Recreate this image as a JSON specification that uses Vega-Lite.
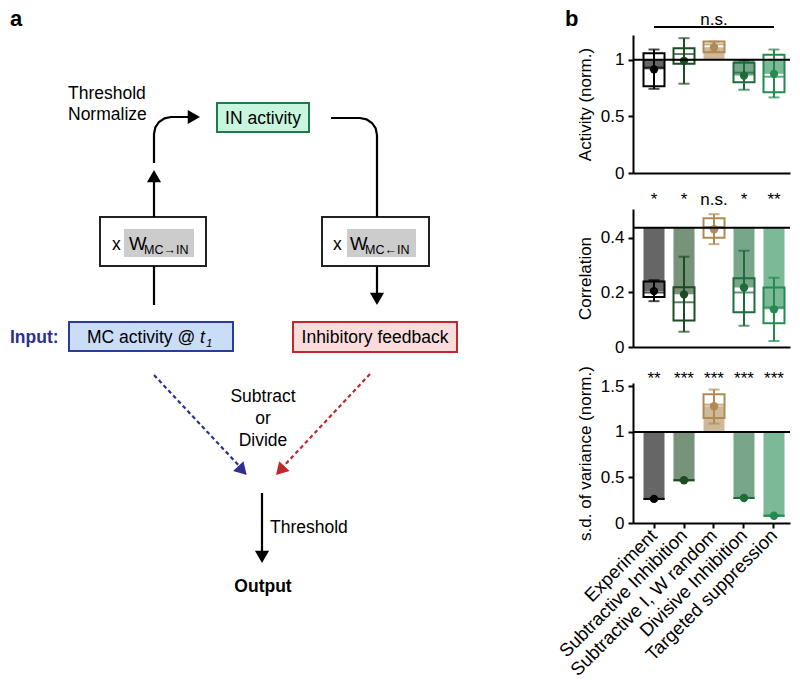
{
  "$schema": "https://vega.github.io/schema/vega-lite/v6.json",
  "padding": {"left": 0, "top": 8, "right": 5, "bottom": 5},
  "background": "white",
  "bounds": "flush",
  "spacing": 153,
  "resolve": {"scale": {"color": "independent", "fill": "independent", "stroke": "independent"}},
  "config": {
    "font": "Liberation Sans",
    "view": {"stroke": null},
    "axis": {"domainColor": "black", "domainWidth": 2, "tickColor": "black", "tickWidth": 2, "tickSize": 5, "labelFontSize": 17, "labelColor": "black", "titleFontSize": 17, "titleFontWeight": "normal", "titleColor": "black", "grid": false, "labelPadding": 4, "titlePadding": 6}
  },
  "datasets": {
    "boxes": [
      {"box": "IN", "x1": 217, "x2": 309, "y1": 103, "y2": 132},
      {"box": "W1", "x1": 100, "x2": 206, "y1": 217, "y2": 266},
      {"box": "G1", "x1": 124, "x2": 194, "y1": 229, "y2": 257},
      {"box": "W2", "x1": 322, "x2": 429, "y1": 217, "y2": 266},
      {"box": "G2", "x1": 347, "x2": 416, "y1": 229, "y2": 257},
      {"box": "Input", "x1": 69, "x2": 233, "y1": 322, "y2": 351},
      {"box": "Inhib", "x1": 293, "x2": 457, "y1": 322, "y2": 352}
    ],
    "lines": [
      {"seg": "up1", "o": 0, "x": 154, "y": 305}, {"seg": "up1", "o": 1, "x": 154, "y": 266},
      {"seg": "up2", "o": 0, "x": 154, "y": 217}, {"seg": "up2", "o": 1, "x": 154, "y": 182},
      {"seg": "c1", "o": 0, "x": 154, "y": 163}, {"seg": "c1", "o": 1, "x": 154, "y": 134},
      {"seg": "c1", "o": 2, "x": 155.3, "y": 127.5}, {"seg": "c1", "o": 3, "x": 159, "y": 122},
      {"seg": "c1", "o": 4, "x": 164.5, "y": 118.3}, {"seg": "c1", "o": 5, "x": 171, "y": 117},
      {"seg": "c1", "o": 6, "x": 189, "y": 117},
      {"seg": "c2", "o": 0, "x": 331, "y": 118}, {"seg": "c2", "o": 1, "x": 360, "y": 118},
      {"seg": "c2", "o": 2, "x": 366.5, "y": 119.3}, {"seg": "c2", "o": 3, "x": 372, "y": 123},
      {"seg": "c2", "o": 4, "x": 375.7, "y": 128.5}, {"seg": "c2", "o": 5, "x": 377, "y": 135},
      {"seg": "c2", "o": 6, "x": 377, "y": 217},
      {"seg": "dn", "o": 0, "x": 377, "y": 266}, {"seg": "dn", "o": 1, "x": 377, "y": 293},
      {"seg": "out", "o": 0, "x": 262, "y": 493}, {"seg": "out", "o": 1, "x": 262, "y": 551}
    ],
    "dash": [
      {"kind": "blue", "o": 0, "x": 154, "y": 375}, {"kind": "blue", "o": 1, "x": 243, "y": 470},
      {"kind": "red", "o": 0, "x": 370, "y": 374}, {"kind": "red", "o": 1, "x": 280, "y": 470}
    ],
    "heads": [
      {"kind": "black", "x": 154, "y": 176.1, "rot": 0},
      {"kind": "black", "x": 193.9, "y": 117, "rot": 90},
      {"kind": "black", "x": 377, "y": 298.9, "rot": 180},
      {"kind": "black", "x": 262, "y": 556.9, "rot": 180},
      {"kind": "blue", "x": 242.5, "y": 470.5, "rot": 136.8},
      {"kind": "red", "x": 280.2, "y": 470.5, "rot": 223.2}
    ],
    "txtLeft": [
      {"t": "Threshold", "x": 68, "y": 99},
      {"t": "Normalize", "x": 68, "y": 120},
      {"t": "x", "x": 112, "y": 250},
      {"t": "x", "x": 333, "y": 250},
      {"t": "Threshold", "x": 270, "y": 533},
      {"t": "MC activity @", "x": 87, "y": 343}
    ],
    "txtCenter": [
      {"t": "IN activity", "x": 263, "y": 124},
      {"t": "Inhibitory feedback", "x": 375, "y": 343},
      {"t": "Subtract", "x": 263, "y": 402},
      {"t": "or", "x": 263, "y": 424},
      {"t": "Divide", "x": 263, "y": 446}
    ],
    "txtW": [
      {"t": "W", "x": 129, "y": 250},
      {"t": "W", "x": 350, "y": 250}
    ],
    "txtSub": [
      {"t": "MC→IN", "x": 144, "y": 254},
      {"t": "MC←IN", "x": 365, "y": 254}
    ],
    "txtBold": [
      {"t": "a", "x": 10, "y": 26},
      {"t": "b", "x": 565, "y": 26}
    ],
    "act": [
      {"model": "Experiment", "mean": 0.915, "q1": 0.765, "q3": 1.056, "med": 0.93, "lo": 0.743, "hi": 1.09},
      {"model": "Subtractive Inhibition", "mean": 0.99, "q1": 0.965, "q3": 1.1, "med": 1.05, "lo": 0.788, "hi": 1.19},
      {"model": "Subtractive I, W random", "mean": 1.11, "q1": 1.065, "q3": 1.16, "med": 1.135, "lo": 1.07, "hi": 1.16},
      {"model": "Divisive Inhibition", "mean": 0.86, "q1": 0.8, "q3": 0.973, "med": 0.886, "lo": 0.735, "hi": 0.99},
      {"model": "Targeted suppression", "mean": 0.875, "q1": 0.712, "q3": 1.043, "med": 0.85, "lo": 0.667, "hi": 1.09}
    ],
    "corr": [
      {"model": "Experiment", "mean": 0.205, "q1": 0.183, "q3": 0.24, "med": 0.2, "lo": 0.168, "hi": 0.245, "lab": "*"},
      {"model": "Subtractive Inhibition", "mean": 0.193, "q1": 0.097, "q3": 0.219, "med": 0.164, "lo": 0.056, "hi": 0.331, "lab": "*"},
      {"model": "Subtractive I, W random", "mean": 0.432, "q1": 0.401, "q3": 0.472, "med": 0.44, "lo": 0.377, "hi": 0.487, "lab": "n.s."},
      {"model": "Divisive Inhibition", "mean": 0.218, "q1": 0.127, "q3": 0.252, "med": 0.2, "lo": 0.078, "hi": 0.353, "lab": "*"},
      {"model": "Targeted suppression", "mean": 0.138, "q1": 0.087, "q3": 0.218, "med": 0.145, "lo": 0.022, "hi": 0.254, "lab": "**"}
    ],
    "sd": [
      {"model": "Experiment", "mean": 0.265, "q1": 0.265, "q3": 0.265, "med": 0.265, "lo": 0.265, "hi": 0.265, "lab": "**"},
      {"model": "Subtractive Inhibition", "mean": 0.47, "q1": 0.47, "q3": 0.47, "med": 0.47, "lo": 0.47, "hi": 0.47, "lab": "***"},
      {"model": "Subtractive I, W random", "mean": 1.283, "q1": 1.154, "q3": 1.414, "med": 1.3, "lo": 1.092, "hi": 1.466, "lab": "***"},
      {"model": "Divisive Inhibition", "mean": 0.275, "q1": 0.275, "q3": 0.275, "med": 0.275, "lo": 0.275, "hi": 0.275, "lab": "***"},
      {"model": "Targeted suppression", "mean": 0.08, "q1": 0.08, "q3": 0.08, "med": 0.08, "lo": 0.08, "hi": 0.08, "lab": "***"}
    ]
  },
  "hconcat": [
    {
      "width": 480,
      "height": 565,
      "layer": [
        {
          "data": {"name": "boxes"},
          "mark": {"type": "rect", "strokeWidth": 2},
          "encoding": {
            "x": {"field": "x1", "type": "quantitative", "scale": {"domain": [0, 480], "nice": false, "zero": false}, "axis": null},
            "x2": {"field": "x2"},
            "y": {"field": "y1", "type": "quantitative", "scale": {"domain": [35, 600], "reverse": true, "nice": false, "zero": false}, "axis": null},
            "y2": {"field": "y2"},
            "fill": {"field": "box", "type": "nominal", "legend": null, "scale": {"domain": ["IN", "W1", "G1", "W2", "G2", "Input", "Inhib"], "range": ["#c8f5dd", "#ffffff", "#cccccc", "#ffffff", "#cccccc", "#c9dcf8", "#fadcdc"]}},
            "stroke": {"field": "box", "type": "nominal", "legend": null, "scale": {"domain": ["IN", "W1", "G1", "W2", "G2", "Input", "Inhib"], "range": ["#1e7a48", "#222222", "rgba(0,0,0,0)", "#222222", "rgba(0,0,0,0)", "#2e3a9a", "#c4262e"]}}
          }
        },
        {
          "data": {"name": "lines"},
          "mark": {"type": "line", "color": "black", "strokeWidth": 2.2},
          "encoding": {
            "x": {"field": "x", "type": "quantitative", "scale": {"domain": [0, 480], "nice": false, "zero": false}, "axis": null},
            "y": {"field": "y", "type": "quantitative", "scale": {"domain": [35, 600], "reverse": true, "nice": false, "zero": false}, "axis": null},
            "detail": {"field": "seg"},
            "order": {"field": "o"}
          }
        },
        {
          "data": {"name": "dash"},
          "mark": {"type": "line", "strokeWidth": 2.2, "strokeDash": [4, 3]},
          "encoding": {
            "x": {"field": "x", "type": "quantitative", "scale": {"domain": [0, 480], "nice": false, "zero": false}, "axis": null},
            "y": {"field": "y", "type": "quantitative", "scale": {"domain": [35, 600], "reverse": true, "nice": false, "zero": false}, "axis": null},
            "color": {"field": "kind", "type": "nominal", "legend": null, "scale": {"domain": ["blue", "red", "black"], "range": ["#2e3192", "#c1272d", "#000000"]}},
            "order": {"field": "o"}
          }
        },
        {
          "data": {"name": "heads"},
          "mark": {"type": "point", "shape": "triangle-up", "filled": true, "size": 200, "opacity": 1},
          "encoding": {
            "x": {"field": "x", "type": "quantitative", "scale": {"domain": [0, 480], "nice": false, "zero": false}, "axis": null},
            "y": {"field": "y", "type": "quantitative", "scale": {"domain": [35, 600], "reverse": true, "nice": false, "zero": false}, "axis": null},
            "color": {"field": "kind", "type": "nominal", "legend": null, "scale": {"domain": ["blue", "red", "black"], "range": ["#2e3192", "#c1272d", "#000000"]}},
            "angle": {"field": "rot", "type": "quantitative", "scale": null}
          }
        },
        {
          "data": {"name": "txtLeft"},
          "mark": {"type": "text", "align": "left", "baseline": "alphabetic", "fontSize": 17.5, "color": "black"},
          "encoding": {
            "x": {"field": "x", "type": "quantitative", "scale": {"domain": [0, 480], "nice": false, "zero": false}, "axis": null},
            "y": {"field": "y", "type": "quantitative", "scale": {"domain": [35, 600], "reverse": true, "nice": false, "zero": false}, "axis": null},
            "text": {"field": "t"}
          }
        },
        {
          "data": {"name": "txtCenter"},
          "mark": {"type": "text", "align": "center", "baseline": "alphabetic", "fontSize": 17.5, "color": "black"},
          "encoding": {
            "x": {"field": "x", "type": "quantitative", "scale": {"domain": [0, 480], "nice": false, "zero": false}, "axis": null},
            "y": {"field": "y", "type": "quantitative", "scale": {"domain": [35, 600], "reverse": true, "nice": false, "zero": false}, "axis": null},
            "text": {"field": "t"}
          }
        },
        {
          "data": {"name": "txtW"},
          "mark": {"type": "text", "align": "left", "baseline": "alphabetic", "fontSize": 18.5, "color": "black"},
          "encoding": {
            "x": {"field": "x", "type": "quantitative", "scale": {"domain": [0, 480], "nice": false, "zero": false}, "axis": null},
            "y": {"field": "y", "type": "quantitative", "scale": {"domain": [35, 600], "reverse": true, "nice": false, "zero": false}, "axis": null},
            "text": {"field": "t"}
          }
        },
        {
          "data": {"name": "txtSub"},
          "mark": {"type": "text", "align": "left", "baseline": "alphabetic", "fontSize": 12.5, "color": "black"},
          "encoding": {
            "x": {"field": "x", "type": "quantitative", "scale": {"domain": [0, 480], "nice": false, "zero": false}, "axis": null},
            "y": {"field": "y", "type": "quantitative", "scale": {"domain": [35, 600], "reverse": true, "nice": false, "zero": false}, "axis": null},
            "text": {"field": "t"}
          }
        },
        {
          "data": {"values": [{"t": "t", "x": 200, "y": 343}]},
          "mark": {"type": "text", "align": "left", "baseline": "alphabetic", "fontSize": 17.5, "fontStyle": "italic", "color": "black"},
          "encoding": {
            "x": {"field": "x", "type": "quantitative", "scale": {"domain": [0, 480], "nice": false, "zero": false}, "axis": null},
            "y": {"field": "y", "type": "quantitative", "scale": {"domain": [35, 600], "reverse": true, "nice": false, "zero": false}, "axis": null},
            "text": {"field": "t"}
          }
        },
        {
          "data": {"values": [{"t": "1", "x": 206, "y": 347}]},
          "mark": {"type": "text", "align": "left", "baseline": "alphabetic", "fontSize": 11.5, "fontStyle": "italic", "color": "black"},
          "encoding": {
            "x": {"field": "x", "type": "quantitative", "scale": {"domain": [0, 480], "nice": false, "zero": false}, "axis": null},
            "y": {"field": "y", "type": "quantitative", "scale": {"domain": [35, 600], "reverse": true, "nice": false, "zero": false}, "axis": null},
            "text": {"field": "t"}
          }
        },
        {
          "data": {"name": "txtBold"},
          "mark": {"type": "text", "align": "left", "baseline": "alphabetic", "fontSize": 22, "fontWeight": "bold", "color": "black"},
          "encoding": {
            "x": {"field": "x", "type": "quantitative", "scale": {"domain": [0, 480], "nice": false, "zero": false}, "axis": null},
            "y": {"field": "y", "type": "quantitative", "scale": {"domain": [35, 600], "reverse": true, "nice": false, "zero": false}, "axis": null},
            "text": {"field": "t"}
          }
        },
        {
          "data": {"values": [{"t": "Input:", "x": 10, "y": 343}]},
          "mark": {"type": "text", "align": "left", "baseline": "alphabetic", "fontSize": 17.5, "fontWeight": "bold", "color": "#2b2f8f"},
          "encoding": {
            "x": {"field": "x", "type": "quantitative", "scale": {"domain": [0, 480], "nice": false, "zero": false}, "axis": null},
            "y": {"field": "y", "type": "quantitative", "scale": {"domain": [35, 600], "reverse": true, "nice": false, "zero": false}, "axis": null},
            "text": {"field": "t"}
          }
        },
        {
          "data": {"values": [{"t": "Output", "x": 263, "y": 592}]},
          "mark": {"type": "text", "align": "center", "baseline": "alphabetic", "fontSize": 17.5, "fontWeight": "bold", "color": "black"},
          "encoding": {
            "x": {"field": "x", "type": "quantitative", "scale": {"domain": [0, 480], "nice": false, "zero": false}, "axis": null},
            "y": {"field": "y", "type": "quantitative", "scale": {"domain": [35, 600], "reverse": true, "nice": false, "zero": false}, "axis": null},
            "text": {"field": "t"}
          }
        }
      ]
    },
    {
      "bounds": "flush",
      "spacing": 36,
      "vconcat": [
        {
          "width": 157,
          "height": 138,
          "data": {"name": "act"},
          "layer": [
            {
              "mark": {"type": "bar", "opacity": 0.6},
              "encoding": {
                "x": {"field": "model", "type": "nominal", "title": null, "scale": {"domain": ["Experiment", "Subtractive Inhibition", "Subtractive I, W random", "Divisive Inhibition", "Targeted suppression"], "paddingInner": 0.3, "paddingOuter": 0.267, "align": 0.656}, "axis": {"labels": false, "ticks": false, "title": null}},
                "y": {"field": "mean", "type": "quantitative", "scale": {"domain": [0, 1.218], "nice": false}, "axis": {"title": "Activity (norm.)", "values": [0, 0.5, 1], "format": "~g"}},
                "y2": {"datum": 1},
                "color": {"field": "model", "type": "nominal", "legend": null, "scale": {"domain": ["Experiment", "Subtractive Inhibition", "Subtractive I, W random", "Divisive Inhibition", "Targeted suppression"], "range": ["#000000", "#1d4b22", "#b08a55", "#1e6b3c", "#248a50"]}}
              }
            },
            {
              "mark": {"type": "bar", "filled": false, "strokeWidth": 2},
              "encoding": {
                "x": {"field": "model", "type": "nominal", "title": null, "scale": {"domain": ["Experiment", "Subtractive Inhibition", "Subtractive I, W random", "Divisive Inhibition", "Targeted suppression"], "paddingInner": 0.3, "paddingOuter": 0.267, "align": 0.656}},
                "y": {"field": "q1", "type": "quantitative", "scale": {"domain": [0, 1.218], "nice": false}},
                "y2": {"field": "q3"},
                "color": {"field": "model", "type": "nominal", "legend": null}
              }
            },
            {
              "mark": {"type": "rule", "strokeWidth": 2},
              "encoding": {
                "x": {"field": "model", "type": "nominal", "title": null, "scale": {"domain": ["Experiment", "Subtractive Inhibition", "Subtractive I, W random", "Divisive Inhibition", "Targeted suppression"], "paddingInner": 0.3, "paddingOuter": 0.267, "align": 0.656}},
                "y": {"field": "lo", "type": "quantitative", "scale": {"domain": [0, 1.218], "nice": false}},
                "y2": {"field": "hi"},
                "color": {"field": "model", "type": "nominal", "legend": null}
              }
            },
            {
              "mark": {"type": "tick", "thickness": 2, "size": 11},
              "encoding": {
                "x": {"field": "model", "type": "nominal", "title": null, "scale": {"domain": ["Experiment", "Subtractive Inhibition", "Subtractive I, W random", "Divisive Inhibition", "Targeted suppression"], "paddingInner": 0.3, "paddingOuter": 0.267, "align": 0.656}},
                "y": {"field": "lo", "type": "quantitative", "scale": {"domain": [0, 1.218], "nice": false}},
                "color": {"field": "model", "type": "nominal", "legend": null}
              }
            },
            {
              "mark": {"type": "tick", "thickness": 2, "size": 11},
              "encoding": {
                "x": {"field": "model", "type": "nominal", "title": null, "scale": {"domain": ["Experiment", "Subtractive Inhibition", "Subtractive I, W random", "Divisive Inhibition", "Targeted suppression"], "paddingInner": 0.3, "paddingOuter": 0.267, "align": 0.656}},
                "y": {"field": "hi", "type": "quantitative", "scale": {"domain": [0, 1.218], "nice": false}},
                "color": {"field": "model", "type": "nominal", "legend": null}
              }
            },
            {
              "mark": {"type": "tick", "thickness": 2, "size": 21},
              "encoding": {
                "x": {"field": "model", "type": "nominal", "title": null, "scale": {"domain": ["Experiment", "Subtractive Inhibition", "Subtractive I, W random", "Divisive Inhibition", "Targeted suppression"], "paddingInner": 0.3, "paddingOuter": 0.267, "align": 0.656}},
                "y": {"field": "med", "type": "quantitative", "scale": {"domain": [0, 1.218], "nice": false}},
                "color": {"field": "model", "type": "nominal", "legend": null}
              }
            },
            {
              "mark": {"type": "point", "filled": true, "size": 70, "opacity": 1},
              "encoding": {
                "x": {"field": "model", "type": "nominal", "title": null, "scale": {"domain": ["Experiment", "Subtractive Inhibition", "Subtractive I, W random", "Divisive Inhibition", "Targeted suppression"], "paddingInner": 0.3, "paddingOuter": 0.267, "align": 0.656}},
                "y": {"field": "mean", "type": "quantitative", "scale": {"domain": [0, 1.218], "nice": false}},
                "color": {"field": "model", "type": "nominal", "legend": null}
              }
            },
            {
              "data": {"values": [{}]},
              "mark": {"type": "rule", "strokeWidth": 2, "color": "black"},
              "encoding": {"y": {"datum": 1, "type": "quantitative"}}
            },
            {
              "data": {"values": [{"a": "Experiment", "b": "Targeted suppression"}]},
              "mark": {"type": "rule", "strokeWidth": 2, "color": "black"},
              "encoding": {
                "x": {"field": "a", "type": "nominal", "title": null, "scale": {"domain": ["Experiment", "Subtractive Inhibition", "Subtractive I, W random", "Divisive Inhibition", "Targeted suppression"], "paddingInner": 0.3, "paddingOuter": 0.267, "align": 0.656}},
                "x2": {"field": "b"},
                "y": {"datum": 1.289, "type": "quantitative"}
              }
            },
            {
              "data": {"values": [{"model": "Subtractive I, W random", "lab": "n.s."}]},
              "mark": {"type": "text", "fontSize": 17, "baseline": "alphabetic", "color": "black"},
              "encoding": {
                "x": {"field": "model", "type": "nominal", "title": null, "scale": {"domain": ["Experiment", "Subtractive Inhibition", "Subtractive I, W random", "Divisive Inhibition", "Targeted suppression"], "paddingInner": 0.3, "paddingOuter": 0.267, "align": 0.656}},
                "y": {"datum": 1.31, "type": "quantitative"},
                "text": {"field": "lab"}
              }
            }
          ]
        },
        {
          "width": 157,
          "height": 138,
          "data": {"name": "corr"},
          "layer": [
            {
              "mark": {"type": "bar", "opacity": 0.6},
              "encoding": {
                "x": {"field": "model", "type": "nominal", "title": null, "scale": {"domain": ["Experiment", "Subtractive Inhibition", "Subtractive I, W random", "Divisive Inhibition", "Targeted suppression"], "paddingInner": 0.3, "paddingOuter": 0.267, "align": 0.656}, "axis": {"labels": false, "ticks": false, "title": null}},
                "y": {"field": "mean", "type": "quantitative", "scale": {"domain": [0, 0.506], "nice": false}, "axis": {"title": "Correlation", "values": [0, 0.2, 0.4], "format": "~g"}},
                "y2": {"datum": 0.437},
                "color": {"field": "model", "type": "nominal", "legend": null, "scale": {"domain": ["Experiment", "Subtractive Inhibition", "Subtractive I, W random", "Divisive Inhibition", "Targeted suppression"], "range": ["#000000", "#1d4b22", "#b08a55", "#1e6b3c", "#248a50"]}}
              }
            },
            {
              "mark": {"type": "bar", "filled": false, "strokeWidth": 2},
              "encoding": {
                "x": {"field": "model", "type": "nominal", "title": null, "scale": {"domain": ["Experiment", "Subtractive Inhibition", "Subtractive I, W random", "Divisive Inhibition", "Targeted suppression"], "paddingInner": 0.3, "paddingOuter": 0.267, "align": 0.656}},
                "y": {"field": "q1", "type": "quantitative", "scale": {"domain": [0, 0.506], "nice": false}},
                "y2": {"field": "q3"},
                "color": {"field": "model", "type": "nominal", "legend": null}
              }
            },
            {
              "mark": {"type": "rule", "strokeWidth": 2},
              "encoding": {
                "x": {"field": "model", "type": "nominal", "title": null, "scale": {"domain": ["Experiment", "Subtractive Inhibition", "Subtractive I, W random", "Divisive Inhibition", "Targeted suppression"], "paddingInner": 0.3, "paddingOuter": 0.267, "align": 0.656}},
                "y": {"field": "lo", "type": "quantitative", "scale": {"domain": [0, 0.506], "nice": false}},
                "y2": {"field": "hi"},
                "color": {"field": "model", "type": "nominal", "legend": null}
              }
            },
            {
              "mark": {"type": "tick", "thickness": 2, "size": 11},
              "encoding": {
                "x": {"field": "model", "type": "nominal", "title": null, "scale": {"domain": ["Experiment", "Subtractive Inhibition", "Subtractive I, W random", "Divisive Inhibition", "Targeted suppression"], "paddingInner": 0.3, "paddingOuter": 0.267, "align": 0.656}},
                "y": {"field": "lo", "type": "quantitative", "scale": {"domain": [0, 0.506], "nice": false}},
                "color": {"field": "model", "type": "nominal", "legend": null}
              }
            },
            {
              "mark": {"type": "tick", "thickness": 2, "size": 11},
              "encoding": {
                "x": {"field": "model", "type": "nominal", "title": null, "scale": {"domain": ["Experiment", "Subtractive Inhibition", "Subtractive I, W random", "Divisive Inhibition", "Targeted suppression"], "paddingInner": 0.3, "paddingOuter": 0.267, "align": 0.656}},
                "y": {"field": "hi", "type": "quantitative", "scale": {"domain": [0, 0.506], "nice": false}},
                "color": {"field": "model", "type": "nominal", "legend": null}
              }
            },
            {
              "mark": {"type": "tick", "thickness": 2, "size": 21},
              "encoding": {
                "x": {"field": "model", "type": "nominal", "title": null, "scale": {"domain": ["Experiment", "Subtractive Inhibition", "Subtractive I, W random", "Divisive Inhibition", "Targeted suppression"], "paddingInner": 0.3, "paddingOuter": 0.267, "align": 0.656}},
                "y": {"field": "med", "type": "quantitative", "scale": {"domain": [0, 0.506], "nice": false}},
                "color": {"field": "model", "type": "nominal", "legend": null}
              }
            },
            {
              "mark": {"type": "point", "filled": true, "size": 70, "opacity": 1},
              "encoding": {
                "x": {"field": "model", "type": "nominal", "title": null, "scale": {"domain": ["Experiment", "Subtractive Inhibition", "Subtractive I, W random", "Divisive Inhibition", "Targeted suppression"], "paddingInner": 0.3, "paddingOuter": 0.267, "align": 0.656}},
                "y": {"field": "mean", "type": "quantitative", "scale": {"domain": [0, 0.506], "nice": false}},
                "color": {"field": "model", "type": "nominal", "legend": null}
              }
            },
            {
              "data": {"values": [{}]},
              "mark": {"type": "rule", "strokeWidth": 2, "color": "black"},
              "encoding": {"y": {"datum": 0.437, "type": "quantitative"}}
            },
            {
              "mark": {"type": "text", "fontSize": 17, "baseline": "alphabetic", "color": "black"},
              "encoding": {
                "x": {"field": "model", "type": "nominal", "title": null, "scale": {"domain": ["Experiment", "Subtractive Inhibition", "Subtractive I, W random", "Divisive Inhibition", "Targeted suppression"], "paddingInner": 0.3, "paddingOuter": 0.267, "align": 0.656}},
                "y": {"datum": 0.52, "type": "quantitative"},
                "text": {"field": "lab"}
              }
            }
          ]
        },
        {
          "width": 157,
          "height": 140,
          "data": {"name": "sd"},
          "layer": [
            {
              "mark": {"type": "bar", "opacity": 0.6},
              "encoding": {
                "x": {"field": "model", "type": "nominal", "title": null, "scale": {"domain": ["Experiment", "Subtractive Inhibition", "Subtractive I, W random", "Divisive Inhibition", "Targeted suppression"], "paddingInner": 0.3, "paddingOuter": 0.267, "align": 0.656}, "axis": {"title": null, "labelAngle": -45, "labelAlign": "right", "labelBaseline": "middle", "labelPadding": 4, "labelFontSize": 18.5, "labelLimit": 400, "ticks": true, "tickSize": 5, "encode": {"labels": {"update": {"fill": {"signal": "datum.value === 'Experiment' ? '#000000' : datum.value === 'Subtractive Inhibition' ? '#1d4b22' : datum.value === 'Subtractive I, W random' ? '#b08a55' : datum.value === 'Divisive Inhibition' ? '#1e6b3c' : '#248a50'"}}}}}},
                "y": {"field": "mean", "type": "quantitative", "scale": {"domain": [0, 1.538], "nice": false}, "axis": {"title": "s.d. of variance (norm.)", "values": [0, 0.5, 1, 1.5], "format": "~g"}},
                "y2": {"datum": 1},
                "color": {"field": "model", "type": "nominal", "legend": null, "scale": {"domain": ["Experiment", "Subtractive Inhibition", "Subtractive I, W random", "Divisive Inhibition", "Targeted suppression"], "range": ["#000000", "#1d4b22", "#b08a55", "#1e6b3c", "#248a50"]}}
              }
            },
            {
              "mark": {"type": "bar", "filled": false, "strokeWidth": 2},
              "encoding": {
                "x": {"field": "model", "type": "nominal", "title": null, "scale": {"domain": ["Experiment", "Subtractive Inhibition", "Subtractive I, W random", "Divisive Inhibition", "Targeted suppression"], "paddingInner": 0.3, "paddingOuter": 0.267, "align": 0.656}},
                "y": {"field": "q1", "type": "quantitative", "scale": {"domain": [0, 1.538], "nice": false}},
                "y2": {"field": "q3"},
                "color": {"field": "model", "type": "nominal", "legend": null}
              }
            },
            {
              "mark": {"type": "rule", "strokeWidth": 2},
              "encoding": {
                "x": {"field": "model", "type": "nominal", "title": null, "scale": {"domain": ["Experiment", "Subtractive Inhibition", "Subtractive I, W random", "Divisive Inhibition", "Targeted suppression"], "paddingInner": 0.3, "paddingOuter": 0.267, "align": 0.656}},
                "y": {"field": "lo", "type": "quantitative", "scale": {"domain": [0, 1.538], "nice": false}},
                "y2": {"field": "hi"},
                "color": {"field": "model", "type": "nominal", "legend": null}
              }
            },
            {
              "mark": {"type": "tick", "thickness": 2, "size": 11},
              "encoding": {
                "x": {"field": "model", "type": "nominal", "title": null, "scale": {"domain": ["Experiment", "Subtractive Inhibition", "Subtractive I, W random", "Divisive Inhibition", "Targeted suppression"], "paddingInner": 0.3, "paddingOuter": 0.267, "align": 0.656}},
                "y": {"field": "lo", "type": "quantitative", "scale": {"domain": [0, 1.538], "nice": false}},
                "color": {"field": "model", "type": "nominal", "legend": null}
              }
            },
            {
              "mark": {"type": "tick", "thickness": 2, "size": 11},
              "encoding": {
                "x": {"field": "model", "type": "nominal", "title": null, "scale": {"domain": ["Experiment", "Subtractive Inhibition", "Subtractive I, W random", "Divisive Inhibition", "Targeted suppression"], "paddingInner": 0.3, "paddingOuter": 0.267, "align": 0.656}},
                "y": {"field": "hi", "type": "quantitative", "scale": {"domain": [0, 1.538], "nice": false}},
                "color": {"field": "model", "type": "nominal", "legend": null}
              }
            },
            {
              "mark": {"type": "tick", "thickness": 2, "size": 21},
              "encoding": {
                "x": {"field": "model", "type": "nominal", "title": null, "scale": {"domain": ["Experiment", "Subtractive Inhibition", "Subtractive I, W random", "Divisive Inhibition", "Targeted suppression"], "paddingInner": 0.3, "paddingOuter": 0.267, "align": 0.656}},
                "y": {"field": "med", "type": "quantitative", "scale": {"domain": [0, 1.538], "nice": false}},
                "color": {"field": "model", "type": "nominal", "legend": null}
              }
            },
            {
              "mark": {"type": "point", "filled": true, "size": 70, "opacity": 1},
              "encoding": {
                "x": {"field": "model", "type": "nominal", "title": null, "scale": {"domain": ["Experiment", "Subtractive Inhibition", "Subtractive I, W random", "Divisive Inhibition", "Targeted suppression"], "paddingInner": 0.3, "paddingOuter": 0.267, "align": 0.656}},
                "y": {"field": "mean", "type": "quantitative", "scale": {"domain": [0, 1.538], "nice": false}},
                "color": {"field": "model", "type": "nominal", "legend": null}
              }
            },
            {
              "data": {"values": [{}]},
              "mark": {"type": "rule", "strokeWidth": 2, "color": "black"},
              "encoding": {"y": {"datum": 1, "type": "quantitative"}}
            },
            {
              "mark": {"type": "text", "fontSize": 17, "baseline": "alphabetic", "color": "black"},
              "encoding": {
                "x": {"field": "model", "type": "nominal", "title": null, "scale": {"domain": ["Experiment", "Subtractive Inhibition", "Subtractive I, W random", "Divisive Inhibition", "Targeted suppression"], "paddingInner": 0.3, "paddingOuter": 0.267, "align": 0.656}},
                "y": {"datum": 1.53, "type": "quantitative"},
                "text": {"field": "lab"}
              }
            }
          ]
        }
      ]
    }
  ]
}
